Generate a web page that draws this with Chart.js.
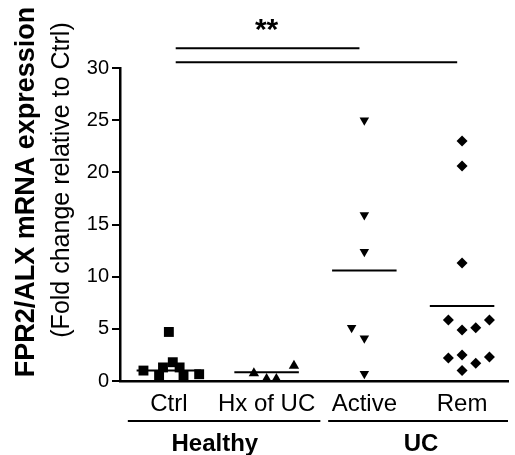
<!DOCTYPE html>
<html>
<head>
<meta charset="utf-8">
<script src="https://cdn.jsdelivr.net/npm/chart.js@4"></script>
<style>
  html, body { margin: 0; padding: 0; background: #fff; }
  #wrap { width: 515px; height: 455px; }
</style>
</head>
<body>
<div id="wrap"><canvas id="chart"></canvas></div>
<script>
const categories = ['Ctrl', 'Hx of UC', 'Active', 'Rem'];
const groups = ['Healthy', 'UC'];
const yTicks = [0, 5, 10, 15, 20, 25, 30];

// fold change per sample, and the sideways spread of each dot around its column
const ctrlValues = [4.7, 1.0, 1.8, 1.3, 1.3, 0.5, 0.5, 0.65];
const ctrlSpread = [0, -0.26, 0.04, -0.06, 0.11, -0.1, 0.15, 0.31];
const hxValues = [0.75, 0.2, 0.2, 1.45];
const hxSpread = [-0.13, 0, 0.1, 0.28];
const activeValues = [25.0, 15.9, 12.4, 5.1, 4.1, 0.7];
const activeSpread = [0, 0, 0, -0.13, 0, 0];
const remValues = [23.0, 20.6, 11.3, 5.85, 4.9, 5.1, 5.85, 2.2, 2.5, 1.7, 2.3, 1.0];
const remSpread = [0, 0, 0, -0.14, 0, 0.14, 0.28, -0.14, 0, 0.14, 0.28, 0];
const groupMeans = [1.0, 0.85, 10.6, 7.2];

// significance bars: Ctrl vs Active, Ctrl vs Rem
const sigLevels = [31.9, 30.55];
const sigEnds = [3, 4];
const sigText = '**';

const FONT = "'Liberation Sans', Arial, sans-serif";
Chart.defaults.font.family = FONT;
Chart.defaults.color = '#000';

function points(col, vals, spread) {
  return vals.map((v, i) => ({ x: col + 1 + spread[i], y: v }));
}

function dots(col, vals, spread, style, r, rot) {
  return {
    type: 'scatter',
    data: points(col, vals, spread),
    pointStyle: style,
    pointRadius: r,
    pointHoverRadius: r,
    rotation: rot || 0,
    backgroundColor: '#000',
    borderColor: '#000',
    borderWidth: 0,
    clip: false
  };
}

function hline(x1, x2, y, w) {
  return {
    type: 'line',
    data: [{ x: x1, y: y }, { x: x2, y: y }],
    borderColor: '#000',
    borderWidth: w,
    pointRadius: 0,
    fill: false,
    clip: false
  };
}

const datasets = [
  dots(0, ctrlValues, ctrlSpread, 'rect', 7),
  dots(1, hxValues, hxSpread, 'triangle', 6),
  dots(2, activeValues, activeSpread, 'triangle', 5.5, 180),
  dots(3, remValues, remSpread, 'rectRot', 5.5)
];
groupMeans.forEach((m, i) => datasets.push(hline(i + 1 - 0.33, i + 1 + 0.33, m, 2)));
sigLevels.forEach((lv, i) => datasets.push(hline(1.07, sigEnds[i] - 0.05, lv, 2)));

const extras = {
  id: 'extras',
  afterDraw(chart) {
    const ctx = chart.ctx;
    const xs = chart.scales.x;
    const ys = chart.scales.y;
    ctx.save();
    ctx.fillStyle = '#000';
    ctx.strokeStyle = '#000';

    // y title, two lines
    ctx.textAlign = 'center';
    ctx.textBaseline = 'middle';
    ctx.save();
    ctx.translate(27, 192);
    ctx.rotate(-Math.PI / 2);
    ctx.font = 'bold 27px ' + FONT;
    ctx.fillText('FPR2/ALX mRNA expression', 0, 0);
    ctx.restore();
    ctx.save();
    ctx.translate(62, 180);
    ctx.rotate(-Math.PI / 2);
    ctx.font = '25px ' + FONT;
    ctx.fillText('(Fold change relative to Ctrl)', 0, 0);
    ctx.restore();

    // group brackets under the axis
    const lineY = ys.bottom + 40;
    ctx.lineWidth = 2;
    ctx.beginPath();
    ctx.moveTo(xs.getPixelForValue(0.58), lineY);
    ctx.lineTo(xs.getPixelForValue(2.55), lineY);
    ctx.moveTo(xs.getPixelForValue(2.63), lineY);
    ctx.lineTo(xs.getPixelForValue(4.47), lineY);
    ctx.stroke();
    ctx.font = 'bold 24px ' + FONT;
    ctx.fillText(groups[0], xs.getPixelForValue(1.47), lineY + 23);
    ctx.fillText(groups[1], xs.getPixelForValue(3.58), lineY + 23);

    // asterisks
    ctx.font = 'bold 30px ' + FONT;
    ctx.textBaseline = 'alphabetic';
    ctx.fillText(sigText, xs.getPixelForValue(2), ys.getPixelForValue(sigLevels[0]) - 9);
    ctx.restore();
  }
};

new Chart(document.getElementById('chart'), {
  type: 'scatter',
  data: { datasets: datasets },
  plugins: [extras],
  options: {
    responsive: true,
    maintainAspectRatio: false,
    animation: false,
    layout: { padding: { top: 68, right: 0, left: 0, bottom: 0 } },
    plugins: { legend: { display: false }, tooltip: { enabled: false } },
    scales: {
      x: {
        type: 'linear',
        min: 0.5,
        max: 4.47,
        afterBuildTicks: s => { s.ticks = categories.map((c, i) => ({ value: i + 1 })); },
        afterFit: s => { s.height = 74; },
        ticks: {
          autoSkip: false,
          maxRotation: 0,
          padding: 9,
          font: { size: 24 },
          color: '#000',
          callback: v => categories[v - 1]
        },
        grid: { display: true, drawOnChartArea: false, drawTicks: false },
        border: { display: true, color: '#000', width: 2.5 }
      },
      y: {
        min: 0,
        max: 30,
        afterBuildTicks: s => { s.ticks = yTicks.map(v => ({ value: v })); },
        afterFit: s => { s.width = 120; },
        ticks: { padding: 3, font: { size: 20 }, color: '#000' },
        grid: { display: true, drawOnChartArea: false, drawTicks: true, tickLength: 8, color: '#000', lineWidth: 2 },
        border: { display: true, color: '#000', width: 2.5 }
      }
    }
  }
});
</script>
</body>
</html>
